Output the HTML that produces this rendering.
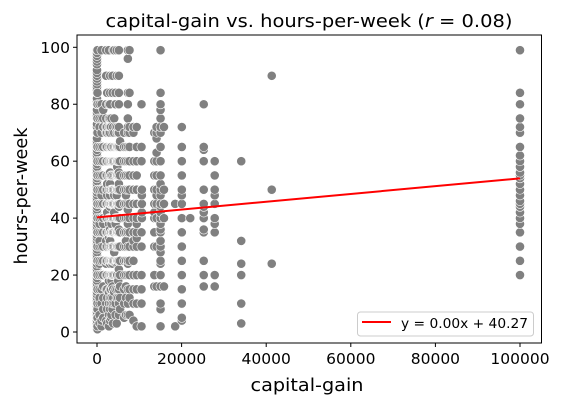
<!DOCTYPE html>
<html><head><meta charset="utf-8"><style>
body{margin:0;background:#fff;}
svg{display:block;font-family:"DejaVu Sans","Liberation Sans",sans-serif;}
</style></head><body>
<svg id="chart" width="561" height="405"></svg>
<script>
const xTicks=[0,20000,40000,60000,80000,100000];
const yTicks=[0,20,40,60,80,100];
const gains=[0,114,594,1055,1471,2174,2407,2829,3103,3325,3411,3674,3818,4064,4386,4650,4787,5013,5178,5455,6418,6849,7298,7688,8614,9386,10520,10605,13550,14084,15024,15831,18481,20051,22040,25236,27828,34095,41310,99999];
const hoursLists=[
[1,2,3,4,5,6,7,8,9,10,11,12,13,14,15,16,17,18,19,20,21,22,23,24,25,26,27,28,29,30,31,32,33,34,35,36,37,38,39,40,41,42,43,44,45,46,47,48,49,50,51,52,53,54,55,56,57,58,59,60,61,62,63,64,65,66,67,68,70,72,73,75,76,77,78,80,81,82,84,85,86,87,88,89,90,91,92,94,95,96,97,98,99],
[1,2,5,8,10,15,20,25,30,35,40,45,50,55,60,65,70,75,80,84,99],
[3,6,10,12,15,20,24,25,30,32,35,38,40,45,50,55,60,65,72,75,80],
[2,4,10,15,20,25,30,35,40,45,48,50,55,60,65,70,75,80,99],
[5,8,12,16,20,25,30,35,38,40,45,50,55,60,65,72,75,78],
[4,10,15,20,24,25,30,32,35,40,45,50,55,60,65,70,72,75,80,90,99],
[3,8,12,15,20,25,30,35,40,42,45,48,50,52,55,60,65,70,72,84],
[2,6,10,14,18,20,25,30,33,35,38,40,45,50,55,60,65,70,72,75,80,99],
[4,8,12,15,20,24,25,30,32,35,36,40,44,45,48,50,52,55,56,60,65,70,72,75,80,84,90],
[5,10,15,20,25,30,35,40,45,50,55,60,65,72],
[6,12,18,20,25,30,35,38,40,45,50,55,60,65,75],
[8,10,16,20,24,25,30,35,40,45,50,55,60,70,84,90],
[3,12,15,20,25,30,35,40,45,50,60,65,72,99],
[10,14,20,25,28,30,35,40,42,45,48,50,55,60,65,70,75,99],
[6,10,15,20,25,30,35,38,40,45,50,55,60,65,72,80,84],
[3,12,20,24,25,30,35,40,45,48,50,55,60,65,70,90,99],
[15,20,25,30,35,40,45,50,55,58,60,65,72],
[12,18,24,25,30,35,40,45,50,55,60,65,70],
[6,10,15,20,22,25,30,35,36,40,44,45,50,52,55,56,60,65,70,72,80,84,90,99],
[8,12,16,20,25,30,35,40,45,50,55,60,65,67],
[5,10,15,20,25,30,35,40,45,50,55,60,65,70],
[6,12,16,20,25,30,32,35,40,45,48,50,55,60,65],
[6,10,15,20,24,25,30,35,38,40,43,45,50,55,60,65,70,72,75,80,84,96,99],
[6,12,15,20,25,30,35,40,45,50,55,60,65,70,72,84,99],
[4,10,15,20,25,30,32,35,40,45,50,55,60,70,72],
[2,10,15,20,30,33,35,38,40,45,50,55,60,65,72],
[2,10,15,20,30,35,40,45,50,60,65,80],
[40,42,45,48,50],
[16,20,30,35,40,42,45,50,55,60,70],
[16,30,40,45,48,50,55,60,63,68,70,72],
[2,8,10,16,20,24,25,28,30,32,35,36,38,40,42,44,45,48,50,52,55,60,65,70,72,75,78,80,84,99],
[16,40,45,50,72],
[2,45],
[4,5,10,15,20,25,30,35,40,45,48,50,55,60,65,72],
[40],
[16,20,25,35,36,40,42,44,45,50,60,64,65,80],
[16,20,35,38,40,45,48,50,55,60],
[3,10,20,24,32,60],
[24,50,90],
[20,25,30,35,38,40,42,44,45,46,48,50,52,54,55,56,58,60,62,65,70,72,75,80,84,99]
];
const fitSlope=0.000137;
const fitIntercept=40.27;
const NS="http://www.w3.org/2000/svg";
const svg=document.getElementById('chart');
const L=77,R=541.5,T=35,B=343;
const sx=v=>97+v*(520-97)/100000;
const sy=v=>332-v*(332-47.3)/100;
function mk(tag,attrs,parent){const e=document.createElementNS(NS,tag);for(const k in attrs)e.setAttribute(k,attrs[k]);(parent||svg).appendChild(e);return e;}
const pts=mk('g',{});


gains.forEach((g,i)=>{hoursLists[i].forEach(h=>{
 const c=mk('circle',{cx:sx(g),cy:sy(h),r:4.6,fill:'#808080',stroke:'#fff','stroke-width':0.6},pts);
 
 
});});
const fl=mk('line',{x1:sx(0),y1:sy(fitIntercept),x2:sx(99999),y2:sy(fitIntercept+fitSlope*99999),stroke:'#ff0000','stroke-width':2});


const fr=mk('rect',{x:L,y:T,width:R-L,height:B-T,fill:'none',stroke:'#000','stroke-width':1});


xTicks.forEach(t=>{
 mk('line',{x1:sx(t),x2:sx(t),y1:B,y2:B+4,stroke:'#000'});
 const tx=mk('text',{x:sx(t),y:B+21,'text-anchor':'middle','font-size':15.5,fill:'#000'});tx.textContent=t;
 
 
});
yTicks.forEach(t=>{
 mk('line',{x1:L-4,x2:L,y1:sy(t),y2:sy(t),stroke:'#000'});
 const tx=mk('text',{x:L-7,y:sy(t)+5.5,'text-anchor':'end','font-size':15.5,fill:'#000'});tx.textContent=t;
 
 
});
</script>
<script>
(function(){
const svg=document.getElementById('chart');
function add(html){svg.insertAdjacentHTML('beforeend',html);}
add('<text x="309" y="27" text-anchor="middle" font-size="18" textLength="407" lengthAdjust="spacingAndGlyphs">capital-gain vs. hours-per-week (<tspan font-style="italic">r</tspan> = 0.08)</text>');
add('<text x="307" y="391" text-anchor="middle" font-size="18" textLength="113" lengthAdjust="spacingAndGlyphs">capital-gain</text>');
add('<text x="27" y="196" text-anchor="middle" font-size="18" textLength="137" lengthAdjust="spacingAndGlyphs" transform="rotate(-90 27 196)">hours-per-week</text>');
add('<g><rect x="357.5" y="312" width="176" height="24" rx="3" fill="#fff" fill-opacity="0.85" stroke="#ccc"/><line x1="362" y1="322" x2="391" y2="322" stroke="#ff0000" stroke-width="2"/><text x="401" y="328" font-size="13" textLength="127" lengthAdjust="spacingAndGlyphs">y = 0.00x + 40.27</text></g>');
})();
</script>
</body></html>
